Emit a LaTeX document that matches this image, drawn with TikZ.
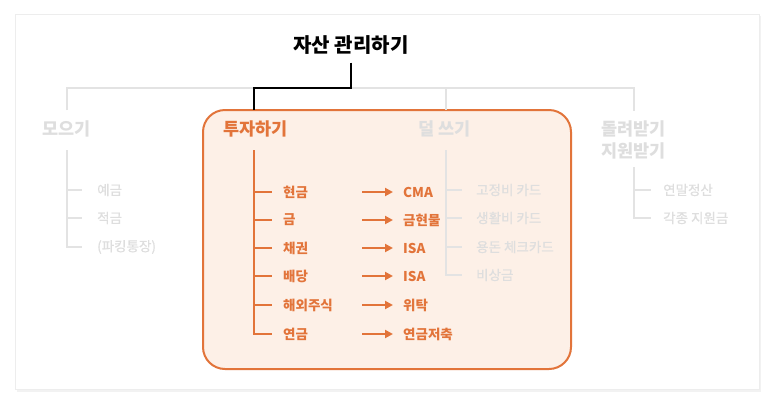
\documentclass[tikz,border=0pt]{standalone}
\usepackage{fontspec}
\newfontfamily\kr{Noto Sans CJK KR}
\newfontfamily\krmid[FakeBold=0.6]{Noto Sans CJK KR}
\usetikzlibrary{arrows.meta}
\definecolor{orng}{HTML}{E2743A}
\definecolor{peach}{HTML}{FDF0E7}
\definecolor{faint}{HTML}{DEDEDE}
\definecolor{faintline}{HTML}{E3E3E3}
\tikzset{
  title/.style={font=\kr\bfseries\fontsize{20}{23}\selectfont, inner sep=0pt},
  head/.style={font=\kr\bfseries\fontsize{17.5}{22}\selectfont, anchor=west, inner sep=0pt, align=left},
  item/.style={font=\krmid\fontsize{13.5}{15}\selectfont, anchor=west, inner sep=0pt, text=faint},
  hot/.style={font=\kr\bfseries\fontsize{13.5}{15}\selectfont, anchor=west, inner sep=0pt, text=orng},
  grayline/.style={faintline, line width=2pt},
  orngline/.style={orng, line width=2pt},
  pointer/.style={orng, line width=2pt, -{Triangle[length=8pt,width=8pt]}},
}
\begin{document}
\begin{tikzpicture}[x=1pt,y=-1pt]
\useasboundingbox (0,0) rectangle (774,405);

% card
\fill[black!5] (17,16) rectangle (761,392);
\fill[white,draw=black!7] (15,14) rectangle (759,389);

% highlighted branch
\draw[orng, fill=peach, line width=2pt, rounded corners=22pt] (203,110) rectangle (571,369);

\node[title] (root) at (351,45) {자산 관리하기};

\coordinate (saveTop) at (67,110);
\coordinate (investTop) at (254,110);
\coordinate (spendTop) at (446,110);
\coordinate (backTop) at (634,111);
\coordinate (bus) at (351,88);

\draw[grayline] (saveTop) |- (bus) -| (backTop);
\draw[grayline] (spendTop) -- (spendTop |- bus);
\draw[black, line width=2.2pt] ([yshift=-8pt]root.south) |- (investTop |- bus) -- (investTop);

% headers
\node[head, text=faint] (save) at (42,129) {모으기};
\node[head, text=orng] (invest) at (223,129) {투자하기};
\node[head, text=faint] (spend) at (418,129) {덜 쓰기};
\node[head, text=faint] (back) at (601,140) {돌려받기\\지원받기};

% 모으기
\coordinate (saveSpine) at (67,150);
\node[item] (s1) at (97,190) {예금};
\node[item] (s2) at (97,218) {적금};
\node[item] (s3) at (97,247) {(파킹통장)};
\draw[grayline] (saveSpine) |- ([xshift=-15pt]s3.west);
\draw[grayline] (s1.west -| saveSpine) -- ([xshift=-15pt]s1.west);
\draw[grayline] (s2.west -| saveSpine) -- ([xshift=-15pt]s2.west);

% 투자하기
\coordinate (investSpine) at (254,150);
\coordinate (arrowL) at (362,150);
\node[hot] (i1) at (283,192) {현금};
\node[hot] (i2) at (283,220) {금};
\node[hot] (i3) at (283,248) {채권};
\node[hot] (i4) at (283,276) {배당};
\node[hot] (i5) at (283,305) {해외주식};
\node[hot] (i6) at (283,334) {연금};
\node[hot] (o1) at (403,192) {CMA};
\node[hot] (o2) at (403,220) {금현물};
\node[hot] (o3) at (403,248) {ISA};
\node[hot] (o4) at (403,276) {ISA};
\node[hot] (o5) at (403,305) {위탁};
\node[hot] (o6) at (403,334) {연금저축};
\draw[orngline] (investSpine) |- ([xshift=-11pt]i6.west);
\draw[orngline] (i1.west -| investSpine) -- ([xshift=-11pt]i1.west);
\draw[orngline] (i2.west -| investSpine) -- ([xshift=-11pt]i2.west);
\draw[orngline] (i3.west -| investSpine) -- ([xshift=-11pt]i3.west);
\draw[orngline] (i4.west -| investSpine) -- ([xshift=-11pt]i4.west);
\draw[orngline] (i5.west -| investSpine) -- ([xshift=-11pt]i5.west);
\draw[pointer] (o1.west -| arrowL) -- ([xshift=-10pt]o1.west);
\draw[pointer] (o2.west -| arrowL) -- ([xshift=-10pt]o2.west);
\draw[pointer] (o3.west -| arrowL) -- ([xshift=-10pt]o3.west);
\draw[pointer] (o4.west -| arrowL) -- ([xshift=-10pt]o4.west);
\draw[pointer] (o5.west -| arrowL) -- ([xshift=-10pt]o5.west);
\draw[pointer] (o6.west -| arrowL) -- ([xshift=-10pt]o6.west);

% 덜 쓰기
\coordinate (spendSpine) at (446,150);
\node[item] (d1) at (476,190) {고정비 카드};
\node[item] (d2) at (476,218) {생활비 카드};
\node[item] (d3) at (476,247) {용돈 체크카드};
\node[item] (d4) at (476,275) {비상금};
\draw[grayline] (spendSpine) |- ([xshift=-14pt]d4.west);
\draw[grayline] (d1.west -| spendSpine) -- ([xshift=-14pt]d1.west);
\draw[grayline] (d2.west -| spendSpine) -- ([xshift=-14pt]d2.west);
\draw[grayline] (d3.west -| spendSpine) -- ([xshift=-14pt]d3.west);

% 돌려받기 지원받기
\coordinate (backSpine) at (634,167);
\node[item] (b1) at (663,190) {연말정산};
\node[item] (b2) at (663,218) {각종 지원금};
\draw[grayline] (backSpine) |- ([xshift=-12pt]b2.west);
\draw[grayline] (b1.west -| backSpine) -- ([xshift=-12pt]b1.west);

\end{tikzpicture}
\end{document}
